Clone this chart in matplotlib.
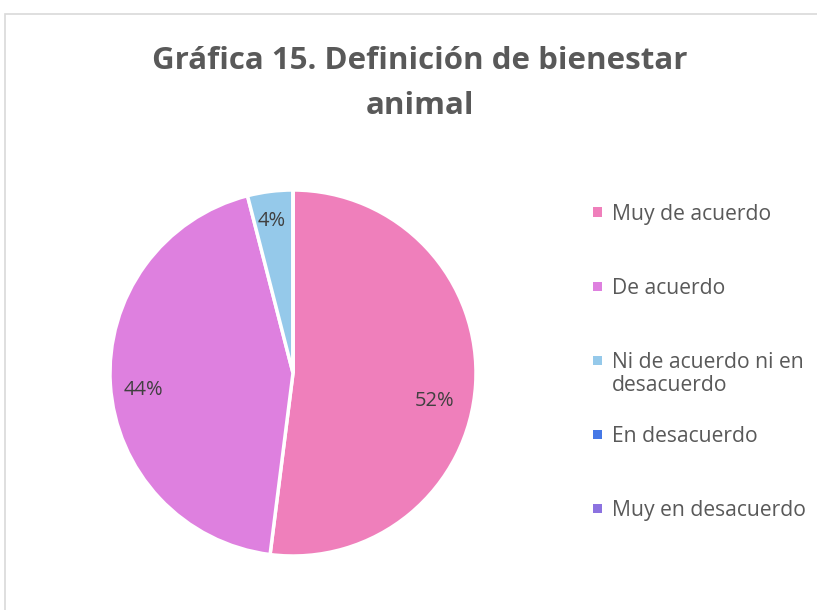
import matplotlib
matplotlib.use("Agg")
import matplotlib.pyplot as plt
from matplotlib.patches import Rectangle

categories = ["Muy de acuerdo", "De acuerdo", "Ni de acuerdo ni en\ndesacuerdo",
              "En desacuerdo", "Muy en desacuerdo"]
values = [52, 44, 4, 0, 0]
colors = ["#EF7FBB", "#DE80DF", "#95C9EA", "#4678E6", "#8C72E0"]
title_lines = ["Gráfica 15. Definición de bienestar", "animal"]

W, H = 817, 610
fig = plt.figure(figsize=(W / 100, H / 100), dpi=100)
fig.patch.set_facecolor("white")

# chart frame
fig.patches.append(Rectangle((5 / W, -0.05), 1.2, 1 - 14 / H + 0.05,
                             transform=fig.transFigure, fill=False,
                             edgecolor="#D9D9D9", linewidth=1.2))

for i, line in enumerate(title_lines):
    fig.text(420 / W, 1 - (61 + 45 * i) / H, line, ha="center", va="center",
             fontsize=22.5, fontweight="bold", color="#595959",
             family="Open Sans")

cx, cy, r = 293, 373, 183
ax = fig.add_axes([(cx - r) / W, 1 - (cy + r) / H, 2 * r / W, 2 * r / H])
wedges, texts, autotexts = ax.pie(
    values, colors=colors, startangle=90, counterclock=False,
    autopct=lambda p: f"{p:.0f}%" if p > 0.5 else "",
    pctdistance=0.8,
    wedgeprops=dict(edgecolor="white", linewidth=2.5),
    textprops=dict(fontsize=14.5, color="#404040", family="Open Sans"))
ax.set_xlim(-1, 1)
ax.set_ylim(-1, 1)
ax.set_aspect("equal")

# data label placement (Excel best-fit positions, in pixels)
label_px = [(435, 401), (143, 390), (272, 221), None, None]
for t, p in zip(autotexts, label_px):
    if p is not None:
        t.set_position(((p[0] - cx) / r, (cy - p[1]) / r))

# legend, drawn manually so the marker sits on the first text line
leg_x, leg_y0, leg_step = 597, 212, 74
for i, (lab, col) in enumerate(zip(categories, colors)):
    y = leg_y0 + leg_step * i
    s = 9
    fig.patches.append(Rectangle(((leg_x - s / 2) / W, 1 - (y + s / 2) / H),
                                 s / W, s / H, transform=fig.transFigure,
                                 facecolor=col, edgecolor="none"))
    fig.text(612 / W, 1 - (y - 8) / H, lab, ha="left", va="top",
             fontsize=15.2, color="#595959", family="Open Sans",
             linespacing=1.15)

fig.savefig("out.png", dpi=100)
